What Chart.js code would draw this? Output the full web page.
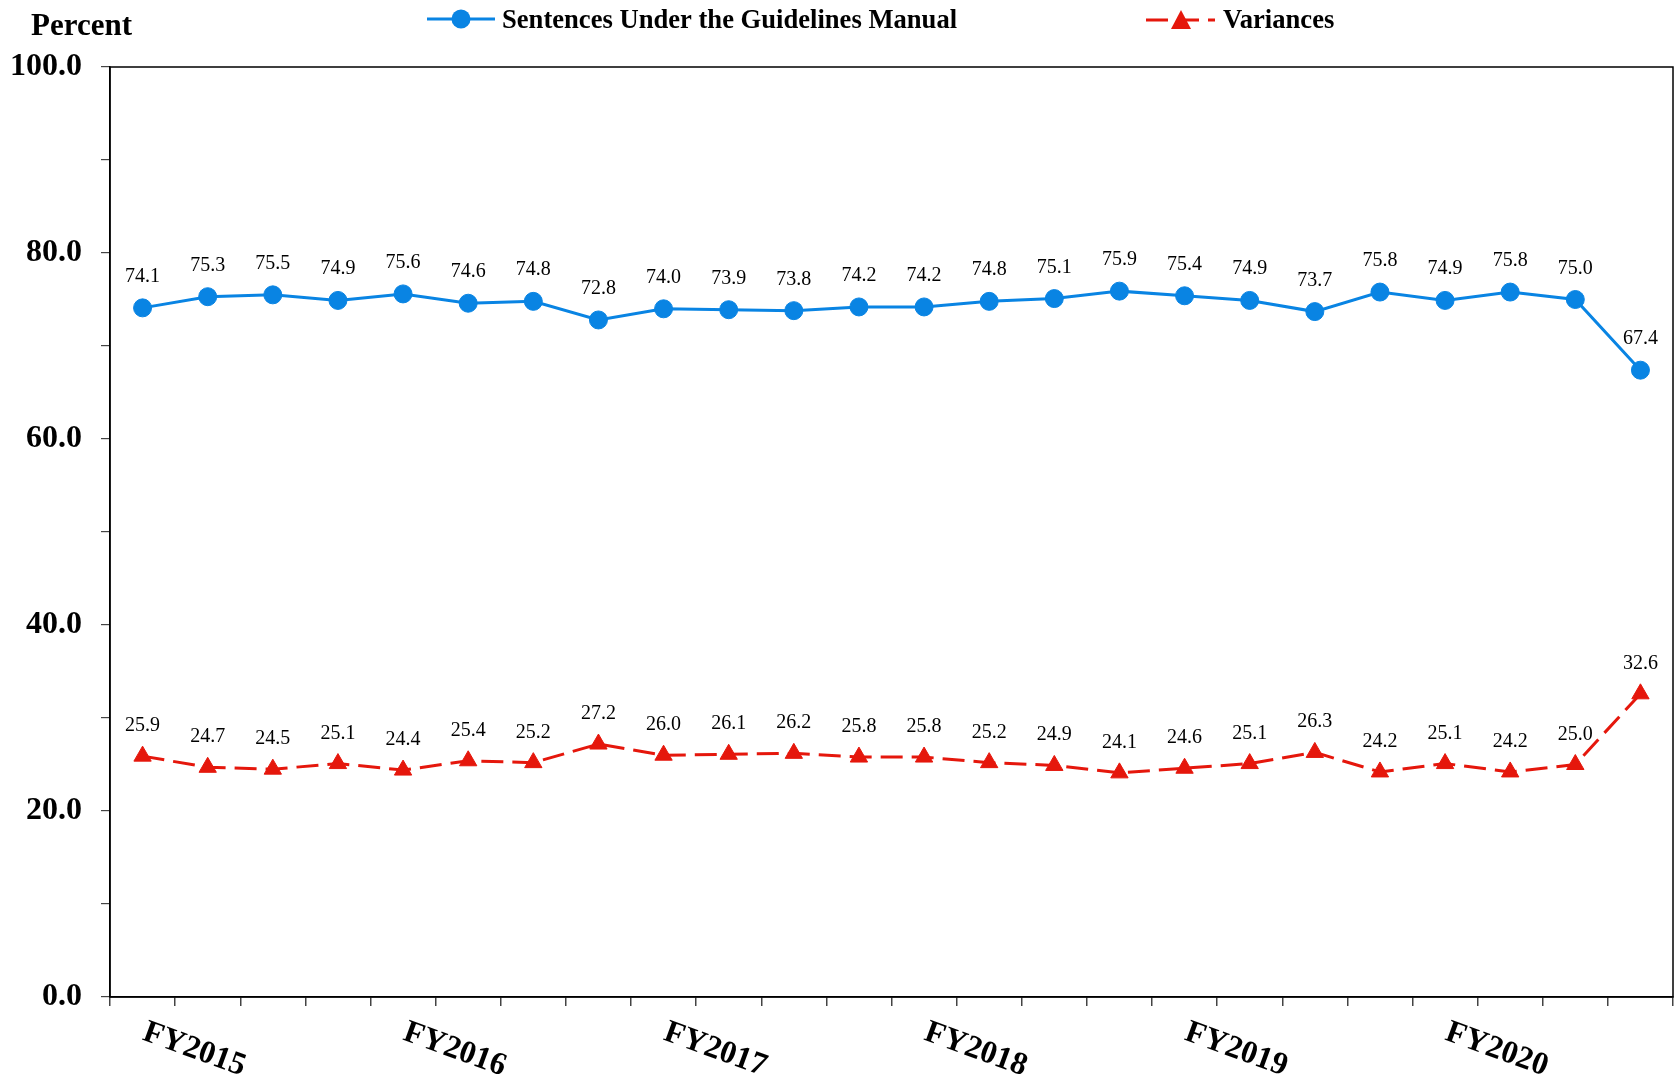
<!DOCTYPE html>
<html>
<head>
<meta charset="utf-8">
<title>Sentences Under the Guidelines Manual vs Variances</title>
<script src="https://cdn.jsdelivr.net/npm/chart.js@4.4.1/dist/chart.umd.min.js"></script>
<style>
  html, body { margin: 0; padding: 0; background: #fff; }
  #wrap { width: 1674px; height: 1082px; }
</style>
</head>
<body>
<div id="wrap"><canvas id="myChart"></canvas></div>
<script>
// quarters FY2015 Q1 .. FY2020 Q4
const quarters = [
  'FY2015 Q1', 'FY2015 Q2', 'FY2015 Q3', 'FY2015 Q4',
  'FY2016 Q1', 'FY2016 Q2', 'FY2016 Q3', 'FY2016 Q4',
  'FY2017 Q1', 'FY2017 Q2', 'FY2017 Q3', 'FY2017 Q4',
  'FY2018 Q1', 'FY2018 Q2', 'FY2018 Q3', 'FY2018 Q4',
  'FY2019 Q1', 'FY2019 Q2', 'FY2019 Q3', 'FY2019 Q4',
  'FY2020 Q1', 'FY2020 Q2', 'FY2020 Q3', 'FY2020 Q4'
];
const years = ['FY2015', 'FY2016', 'FY2017', 'FY2018', 'FY2019', 'FY2020'];

const guidelines = [74.1, 75.3, 75.5, 74.9, 75.6, 74.6, 74.8, 72.8, 74.0, 73.9, 73.8, 74.2,
                    74.2, 74.8, 75.1, 75.9, 75.4, 74.9, 73.7, 75.8, 74.9, 75.8, 75.0, 67.4];
const variances = [25.9, 24.7, 24.5, 25.1, 24.4, 25.4, 25.2, 27.2, 26.0, 26.1, 26.2, 25.8,
                   25.8, 25.2, 24.9, 24.1, 24.6, 25.1, 26.3, 24.2, 25.1, 24.2, 25.0, 32.6];

const serif = "'Times New Roman', 'Liberation Serif', serif";
const blue = '#0984e3';
const red = '#e5170c';

// box round the plot area
const frame = {
  id: 'frame',
  beforeDatasetsDraw(chart) {
    const { ctx, chartArea: a } = chart;
    ctx.save();
    ctx.strokeStyle = '#000';
    ctx.lineWidth = 1.5;
    ctx.strokeRect(a.left, a.top, a.right - a.left, a.bottom - a.top);
    ctx.restore();
  }
};

// value above every point
const valueLabels = {
  id: 'valueLabels',
  afterDatasetsDraw(chart) {
    const ctx = chart.ctx;
    ctx.save();
    ctx.font = '20px ' + serif;
    ctx.fillStyle = '#000';
    ctx.textAlign = 'center';
    ctx.textBaseline = 'alphabetic';
    chart.data.datasets.forEach((ds, i) => {
      chart.getDatasetMeta(i).data.forEach((pt, j) => {
        ctx.fillText(ds.data[j].toFixed(1), pt.x, pt.y - (i === 0 ? 26 : 25));
      });
    });
    ctx.restore();
  }
};

// "Percent", legend and the slanted year labels
const extras = {
  id: 'extras',
  afterDraw(chart) {
    const ctx = chart.ctx;
    const ds = chart.data.datasets;
    ctx.save();
    ctx.fillStyle = '#000';
    ctx.font = 'bold 31px ' + serif;
    ctx.textAlign = 'left';
    ctx.textBaseline = 'alphabetic';
    ctx.fillText('Percent', 31, 35);

    // legend: blue line + circle
    ctx.strokeStyle = blue;
    ctx.lineWidth = 3;
    ctx.beginPath();
    ctx.moveTo(427, 19);
    ctx.lineTo(495, 19);
    ctx.stroke();
    ctx.fillStyle = blue;
    ctx.beginPath();
    ctx.arc(461, 19, 9.5, 0, Math.PI * 2);
    ctx.fill();
    ctx.fillStyle = '#000';
    ctx.font = 'bold 26.6px ' + serif;
    ctx.fillText(ds[0].label, 502, 28);

    // legend: red dashes + triangle
    ctx.strokeStyle = red;
    ctx.setLineDash([22, 9]);
    ctx.beginPath();
    ctx.moveTo(1146, 20);
    ctx.lineTo(1215, 20);
    ctx.stroke();
    ctx.setLineDash([]);
    ctx.fillStyle = red;
    ctx.beginPath();
    ctx.moveTo(1181, 10);
    ctx.lineTo(1191, 29);
    ctx.lineTo(1171, 29);
    ctx.closePath();
    ctx.fill();
    ctx.fillStyle = '#000';
    ctx.fillText(ds[1].label, 1223, 28);

    // year labels centred on each 4-quarter group, tilted clockwise
    const x = chart.scales.x;
    ctx.font = 'bold 32px ' + serif;
    ctx.textAlign = 'right';
    ctx.textBaseline = 'middle';
    years.forEach((yr, k) => {
      const px = x.getPixelForValue(1.5 + 4 * k) + 4;
      const py = chart.chartArea.bottom + 71;
      ctx.save();
      ctx.translate(px, py);
      ctx.rotate(20 * Math.PI / 180);
      ctx.fillText(yr, 0, 0);
      ctx.restore();
    });
    ctx.restore();
  }
};

const ctx = document.getElementById('myChart').getContext('2d');

new Chart(ctx, {
  type: 'line',
  data: {
    labels: quarters,
    datasets: [
      {
        label: 'Sentences Under the Guidelines Manual',
        data: guidelines,
        borderColor: blue,
        backgroundColor: blue,
        borderWidth: 3,
        tension: 0,
        pointStyle: 'circle',
        pointRadius: 9,
        pointBorderWidth: 1,
        pointBackgroundColor: blue,
        pointBorderColor: blue
      },
      {
        label: 'Variances',
        data: variances,
        borderColor: red,
        backgroundColor: red,
        borderWidth: 3,
        borderDash: [22, 9],
        tension: 0,
        pointStyle: 'triangle',
        pointRadius: 10,
        pointBorderWidth: 1,
        pointBackgroundColor: red,
        pointBorderColor: red
      }
    ]
  },
  options: {
    responsive: true,
    maintainAspectRatio: false,
    animation: false,
    layout: { autoPadding: false, padding: { top: 67, right: 1, left: 0, bottom: 0 } },
    plugins: {
      legend: { display: false },
      tooltip: { enabled: false }
    },
    scales: {
      x: {
        type: 'category',
        offset: true,
        grid: {
          offset: true,
          drawOnChartArea: false,
          drawTicks: true,
          tickLength: 9,
          color: '#444',
          lineWidth: 1.5
        },
        border: { display: true, color: '#000', width: 1.5 },
        ticks: { display: false },
        afterFit(scale) { scale.height = 85; }
      },
      y: {
        min: 0,
        max: 100,
        grid: {
          drawOnChartArea: false,
          drawTicks: true,
          tickLength: 9,
          color: '#444',
          lineWidth: 1.2
        },
        border: { display: true, color: '#000', width: 1.5 },
        ticks: {
          stepSize: 10,
          padding: 19,
          color: '#000',
          font: { family: serif, size: 32, weight: 'bold' },
          callback: (v) => (v % 20 === 0 ? v.toFixed(1) : '')
        },
        afterFit(scale) { scale.width = 110; }
      }
    }
  },
  plugins: [frame, valueLabels, extras]
});
</script>
</body>
</html>
